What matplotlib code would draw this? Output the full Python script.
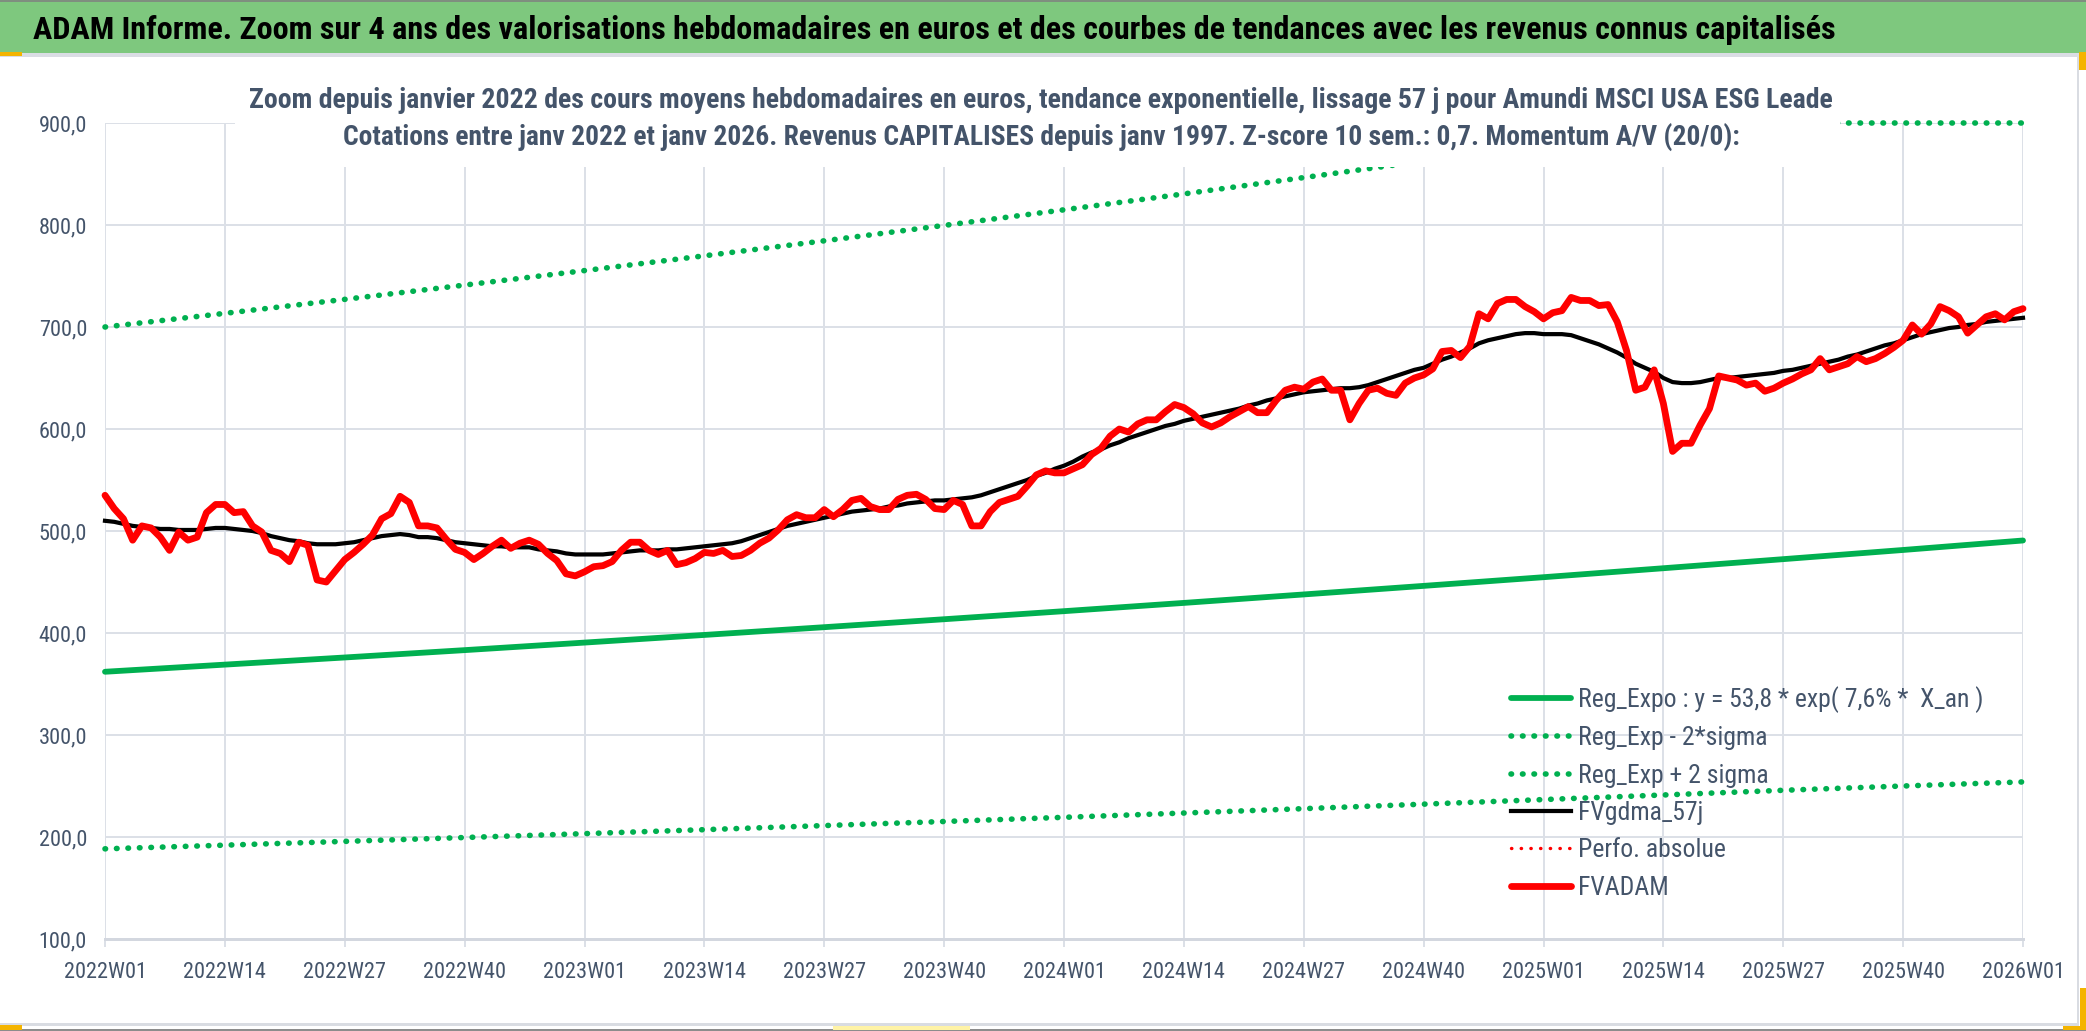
import numpy as np
import matplotlib
matplotlib.use('Agg')
import matplotlib.pyplot as plt
from matplotlib import font_manager as fm
from matplotlib.patches import Rectangle
from matplotlib.lines import Line2D

# ---------------- data ----------------
tick_labels = ['2022W01', '2022W14', '2022W27', '2022W40', '2023W01', '2023W14',
               '2023W27', '2023W40', '2024W01', '2024W14', '2024W27', '2024W40',
               '2025W01', '2025W14', '2025W27', '2025W40', '2026W01']
y_ticks = [100, 200, 300, 400, 500, 600, 700, 800, 900]

# weekly FVADAM (2022W01 .. 2026W01)
fvadam = [
    535, 522, 512, 491, 505, 503, 494, 481, 499, 491,
    494, 518, 526, 526, 518, 519, 505, 499, 481, 478,
    470, 489, 486, 452, 450, 461, 472, 479, 487, 496,
    512, 517, 534, 528, 505, 505, 503, 492, 482, 479,
    472, 478, 485, 491, 483, 488, 491, 487, 478, 471,
    458, 456, 460, 465, 466, 470, 481, 489, 489, 481,
    477, 481, 467, 469, 473, 479, 478, 481, 475, 476,
    481, 488, 493, 501, 511, 516, 513, 513, 521, 514,
    521, 530, 532, 524, 521, 521, 531, 535, 536, 531,
    522, 521, 530, 526, 505, 505, 519, 528, 531, 534,
    544, 555, 559, 557, 557, 561, 565, 575, 581, 593,
    600, 597, 605, 609, 609, 617, 624, 621, 615, 606,
    602, 606, 612, 617, 622, 616, 616, 628, 638, 641,
    639, 646, 649, 638, 638, 609, 625, 638, 640, 635,
    633, 645, 650, 653, 659, 676, 677, 670, 681, 713,
    708, 723, 727, 727, 720, 715, 708, 714, 716, 729,
    726, 726, 721, 722, 705, 677, 638, 641, 658, 625,
    578, 586, 586, 604, 620, 652, 650, 648, 643, 645,
    637, 640, 645, 649, 654, 658, 669, 658, 661, 664,
    671, 666, 669, 674, 680, 687, 702, 693, 703, 720,
    716, 710, 694, 702, 710, 713, 707, 715, 718,
]

# weekly FVgdma_57j (smoothed)
fvgdma = [
    510, 509, 507, 505, 504, 503, 502, 502, 501, 501,
    501, 502, 503, 503, 502, 501, 500, 498, 495, 493,
    491, 490, 488, 487, 487, 487, 488, 489, 491, 493,
    495, 496, 497, 496, 494, 494, 493, 491, 489, 488,
    487, 486, 485, 485, 484, 484, 484, 482, 481, 480,
    478, 477, 477, 477, 477, 478, 479, 480, 481, 481,
    481, 482, 482, 483, 484, 485, 486, 487, 488, 490,
    493, 496, 499, 502, 505, 507, 509, 511, 513, 515,
    517, 519, 520, 521, 522, 524, 525, 527, 528, 529,
    530, 530, 531, 532, 533, 535, 538, 541, 544, 547,
    550, 554, 557, 561, 564, 568, 573, 577, 580, 584,
    587, 591, 594, 597, 600, 603, 605, 608, 610, 612,
    614, 616, 618, 620, 623, 625, 628, 630, 632, 634,
    636, 637, 638, 639, 640, 640, 641, 643, 646, 649,
    652, 655, 658, 660, 664, 668, 671, 675, 679, 684,
    687, 689, 691, 693, 694, 694, 693, 693, 693, 692,
    689, 686, 683, 679, 675, 670, 664, 660, 656, 650,
    646, 645, 645, 646, 648, 650, 650, 651, 652, 653,
    654, 655, 657, 658, 660, 662, 664, 666, 668, 671,
    673, 676, 679, 682, 684, 687, 690, 693, 695, 697,
    699, 700, 702, 703, 705, 706, 707, 708, 709,
]

# regression curves read at each labelled week
reg_expo = [362.0, 369.0, 376.0, 383.2, 390.6, 398.1, 405.7, 413.5, 421.4,
            429.5, 437.8, 446.2, 454.7, 463.5, 472.4, 481.4, 490.7]
reg_lo = [188.4, 192.0, 195.7, 199.5, 203.3, 207.2, 211.2, 215.2, 219.3,
          223.5, 227.8, 232.2, 236.7, 241.2, 245.8, 250.0, 254.0]
reg_hi = [700.0, 713.4, 727.1, 741.1, 755.3, 769.8, 784.5, 799.6, 814.9,
          830.5, 846.5, 862.7, 879.3, 896.1, 900.0, 900.0, 900.0]

title = ("ADAM Informe. Zoom sur 4 ans des valorisations hebdomadaires en euros "
         "et des courbes de tendances avec les revenus connus capitalisés")
sub1 = ("Zoom depuis janvier 2022 des cours moyens hebdomadaires en euros, tendance "
        "exponentielle, lissage 57 j pour Amundi MSCI USA ESG Leade")
sub2 = ("Cotations entre janv 2022 et janv 2026. Revenus CAPITALISES depuis janv 1997. "
        "Z-score 10 sem.: 0,7. Momentum A/V (20/0):")
legend_labels = ['Reg_Expo : y = 53,8 * exp( 7,6% *  X_an )', 'Reg_Exp - 2*sigma',
                 'Reg_Exp + 2 sigma', 'FVgdma_57j', 'Perfo. absolue', 'FVADAM']

# ---------------- fonts ----------------
def pick(cands):
    for c in cands:
        try:
            fm.findfont(fm.FontProperties(family=c), fallback_to_default=False)
            return c
        except Exception:
            pass
    return 'DejaVu Sans'

FONT = pick(['Liberation Sans Narrow', 'Roboto Condensed', 'DejaVu Sans Condensed',
             'Liberation Sans', 'DejaVu Sans'])
plt.rcParams['font.family'] = [FONT, 'DejaVu Sans']

W, H, DPI = 2086, 1031, 100
fig = plt.figure(figsize=(W / DPI, H / DPI), dpi=DPI, facecolor='white')
PT = 72.0 / DPI  # points per pixel

def fx(px):
    return px / W

def fy(py):
    return 1 - py / H

GREEN = '#00B050'
GRID = '#DCE0E7'
TXT = '#44546A'

# ---------------- axes ----------------
ax = fig.add_axes([fx(105), fy(939), (2023 - 105) / W, (939 - 123) / H])
ax.set_facecolor('white')
weeks = np.arange(len(fvadam))
tick_weeks = np.arange(0, len(fvadam), 13)

gdot = (0, (0.1, 1.95))
rdot = (0, (0.1, 2.75))
l_reg, = ax.plot(tick_weeks, reg_expo, color=GREEN, lw=5.8 * PT, solid_capstyle='round',
                 zorder=3, clip_on=False)
l_lo, = ax.plot(tick_weeks, reg_lo, color=GREEN, lw=5.6 * PT, linestyle=gdot,
                dash_capstyle='round', zorder=3, clip_on=False)
l_hi, = ax.plot(tick_weeks, reg_hi, color=GREEN, lw=5.6 * PT, linestyle=gdot,
                dash_capstyle='round', zorder=3, clip_on=False)
l_gd, = ax.plot(weeks, fvgdma, color='black', lw=4.2 * PT, solid_joinstyle='round',
                zorder=4, clip_on=False)
l_pf, = ax.plot([], [], color='#FF0000', lw=3.4 * PT, linestyle=rdot, dash_capstyle='round')
l_fv, = ax.plot(weeks, fvadam, color='#FF0000', lw=6.8 * PT, solid_joinstyle='round',
                solid_capstyle='round', zorder=5, clip_on=False)

ax.set_xlim(0, len(fvadam) - 1)
ax.set_ylim(y_ticks[0], y_ticks[-1])
ax.set_xticks(tick_weeks)
ax.set_xticklabels(tick_labels)
ax.set_yticks(y_ticks)
ax.set_yticklabels([f"{v:.1f}".replace('.', ',') for v in y_ticks])
for s in ax.spines.values():
    s.set_visible(False)
ax.grid(True, color=GRID, lw=2 * PT, zorder=0)
ax.set_axisbelow(True)
ax.axhline(y_ticks[0], color='#D3D7DF', lw=3 * PT, zorder=1, clip_on=False)
ax.tick_params(axis='x', length=8 * PT, width=2 * PT, color=GRID, pad=15 * PT,
               labelsize=16, labelcolor=TXT)
ax.tick_params(axis='y', length=0, pad=18 * PT, labelsize=16, labelcolor=TXT)

# legend
handles = [l_reg, l_lo, l_hi, l_gd, l_pf, l_fv]
leg = fig.legend(handles, legend_labels, loc='center left',
                 bbox_to_anchor=(fx(1511), fy(793)), frameon=False, fontsize=18.5,
                 handlelength=2.35, handletextpad=0.25, labelspacing=0.52,
                 borderpad=0, borderaxespad=0, labelcolor=TXT)
leg.set_zorder(6)

# ---------------- decorations ----------------
fig.patches.append(Rectangle((0, fy(53)), 1, 53 / H, transform=fig.transFigure,
                             facecolor='#7EC87E', edgecolor='none', zorder=10))
fig.patches.append(Rectangle((0, fy(2)), 1, 2 / H, transform=fig.transFigure,
                             facecolor='#7F8F7F', edgecolor='none', zorder=11))
fig.patches.append(Rectangle((0, fy(57)), 1, 4 / H, transform=fig.transFigure,
                             facecolor='#DADDE4', edgecolor='none', zorder=10))
# white box behind the subtitle
fig.patches.append(Rectangle((fx(235), fy(167)), (1840 - 235) / W, (167 - 70) / H,
                             transform=fig.transFigure, facecolor='white',
                             edgecolor='none', zorder=8))
# right / bottom frame lines
fig.patches.append(Rectangle((fx(2077), fy(1026)), 2 / W, (1026 - 57) / H,
                             transform=fig.transFigure, facecolor='#D9DCE2',
                             edgecolor='none', zorder=10))
fig.patches.append(Rectangle((0, fy(1026)), fx(2079), 3 / H, transform=fig.transFigure,
                             facecolor='#D9DCE2', edgecolor='none', zorder=10))
fig.patches.append(Rectangle((0, 0), 1, 2 / H, transform=fig.transFigure,
                             facecolor='#8C8C8C', edgecolor='none', zorder=11))
# small selection handles
for (x0, y0, w, h, c) in [(0, 52, 22, 4, '#F4B400'), (2079, 52, 7, 18, '#F4B400'),
                          (0, 1025, 22, 5, '#F4B400'), (2063, 1026, 23, 4, '#F4B400'),
                          (2080, 988, 6, 42, '#F4B400'), (833, 1026, 137, 4, '#FFF3A6')]:
    fig.patches.append(Rectangle((fx(x0), fy(y0 + h)), w / W, h / H,
                                 transform=fig.transFigure, facecolor=c,
                                 edgecolor='none', zorder=12))

# ---------------- texts ----------------
t_title = fig.text(fx(33), fy(39), title, fontsize=22, fontweight='bold', color='black',
                   ha='left', va='baseline', zorder=13)
t_s1 = fig.text(fx(1041), fy(108), sub1, fontsize=19, fontweight='bold', color=TXT,
                ha='center', va='baseline', zorder=13)
t_s2 = fig.text(fx(1041), fy(145), sub2, fontsize=19, fontweight='bold', color=TXT,
                ha='center', va='baseline', zorder=13)

renderer = fig.canvas.get_renderer()
for t, target in [(t_title, 1807), (t_s1, 1584), (t_s2, 1397)]:
    for _ in range(3):
        bb = t.get_window_extent(renderer=renderer)
        t.set_fontsize(t.get_fontsize() * target / bb.width)

fig.savefig('out.png', dpi=DPI, facecolor='white')
